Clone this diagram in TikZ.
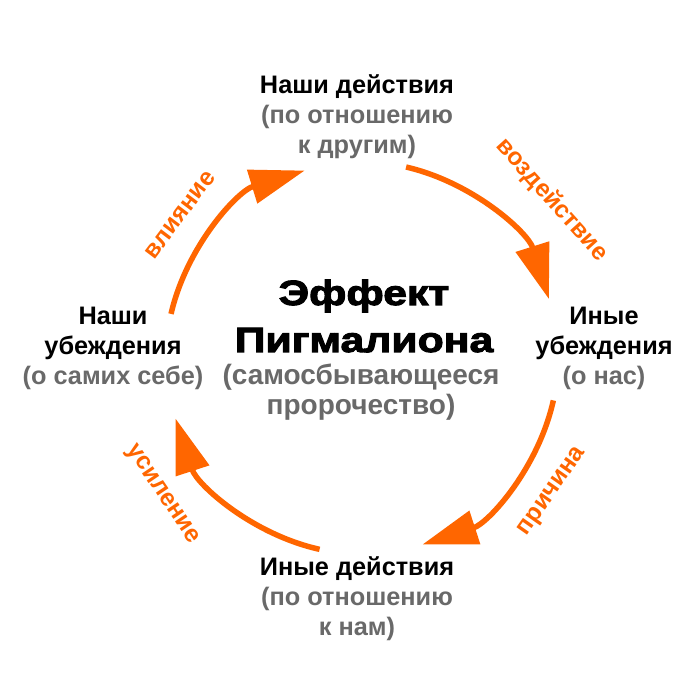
\documentclass[tikz,border=0pt]{standalone}
\usepackage{fontspec}
\setmainfont{Liberation Sans}
\newfontfamily\titlefont[BoldFeatures={FakeBold=3,FakeStretch=1.22}]{Liberation Sans}
\usetikzlibrary{arrows.meta,calc}
\definecolor{orng}{RGB}{255,102,0}
\definecolor{txtgray}{RGB}{105,105,105}
\begin{document}
\begin{tikzpicture}[x=1pt,y=1pt,
  box/.style={align=center,inner sep=0pt,font=\fontsize{25.3}{30}\selectfont\bfseries,anchor=base},
  cyc/.style={draw=orng,line width=5.5pt,line cap=butt,-{Triangle[length=55pt,width=34pt]}},
  lbl/.style={text=orng,font=\fontsize{24.5}{28}\selectfont\bfseries,inner sep=0pt}]
\useasboundingbox[fill=white] (0,0) rectangle (700,700);
\coordinate (c) at (362,342);
% nodes (anchor = baseline of last line)
\node[box] (top) at (357,546) {Наши действия\\\textcolor{txtgray}{(по отношению}\\\textcolor{txtgray}{к другим)}};
\node[box] (left) at (113,315) {Наши\\убеждения\\\textcolor{txtgray}{(о самих себе)}};
\node[box] (right) at (604,315) {Иные\\убеждения\\\textcolor{txtgray}{(о нас)}};
\node[box] (bottom) at (357,64) {Иные действия\\\textcolor{txtgray}{(по отношению}\\\textcolor{txtgray}{к нам)}};
\node[inner sep=0pt,anchor=base,align=center,font=\fontsize{35}{47}\selectfont\titlefont\bfseries] (title) at (364,348) {Эффект\\Пигмалиона};
\node[inner sep=0pt,anchor=base,align=center,text=txtgray,font=\fontsize{28}{30}\selectfont\bfseries] (subtitle) at (361,285) {(самосбывающееся\\пророчество)};
% arc end points
\coordinate (a1s) at ($(c)+(167:196)$);
\coordinate (a2s) at ($(c)+(77:196)$);
\coordinate (a3s) at ($(c)+(-12.5:196)$);
\coordinate (a4s) at ($(c)+(-102.5:196)$);
\draw[cyc] (a1s) arc[start angle=167,end angle=107,radius=196];
\draw[cyc] (a2s) arc[start angle=77,end angle=17.5,radius=196];
\draw[cyc] (a3s) arc[start angle=-12.5,end angle=-72,radius=196];
\draw[cyc] (a4s) arc[start angle=-102.5,end angle=-162,radius=196];
% labels
\node[lbl,rotate=53] (l1) at (180,485) {влияние};
\node[lbl,rotate=-48] (l2) at (552,500) {воздействие};
\node[lbl,rotate=55] (l3) at (553,208) {причина};
\node[lbl,rotate=-56] (l4) at (162,205) {усиление};
\end{tikzpicture}
\end{document}
